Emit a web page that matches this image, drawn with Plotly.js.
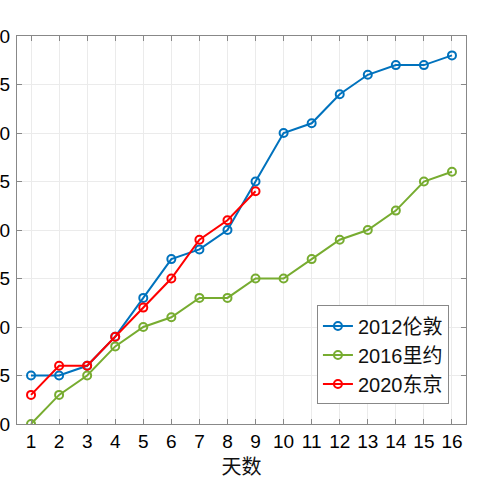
<!DOCTYPE html>
<html>
<head>
<meta charset="utf-8">
<script src="https://cdn.plot.ly/plotly-3.0.1.min.js"></script>
<style>html,body{margin:0;padding:0;background:#fff;}#chart{width:480px;height:480px;}</style>
</head>
<body>
<div id="chart"></div>
<script>
const days = [1,2,3,4,5,6,7,8,9,10,11,12,13,14,15,16];
const london2012 = [5,5,6,9,13,17,18,20,25,30,31,34,36,37,37,38];
const rio2016 = [0,3,5,8,10,11,13,13,15,15,17,19,20,22,25,26];
const tokyo2020 = [3,6,6,9,12,15,19,21,24];
const seriesNames = ['2012伦敦','2016里约','2020东京'];
const yTicks = [0,5,10,15,20,25,30,35,40];
// the reference is cropped at its left edge: only the last digit of each y label is visible
const yTickLabels = ['0','5','0','5','0','5','0','5','0'];

const colors = ['#0072BD','#77AC30','#FF0000'];
const mk = (x, y, name, c) => ({
  x: x, y: y, name: name, type: 'scatter', mode: 'lines+markers',
  line: {color: c, width: 2},
  marker: {symbol: 'circle-open', size: 8, color: c, line: {width: 2, color: c}}
});
const data = [
  mk(days, london2012, seriesNames[0], colors[0]),
  mk(days, rio2016, seriesNames[1], colors[1]),
  mk(days.slice(0, tokyo2020.length), tokyo2020, seriesNames[2], colors[2])
];
const tf = {family: 'Liberation Sans, Arial, sans-serif', size: 19, color: '#000'};
const axisCommon = {
  showline: true, mirror: 'ticks', linecolor: '#888', linewidth: 1,
  ticks: 'inside', ticklen: 5, tickcolor: '#888',
  showgrid: true, gridcolor: '#ebebeb', gridwidth: 1, zeroline: false,
  tickfont: tf
};
const layout = {
  width: 480, height: 480,
  margin: {l: 17, r: 14, t: 36, b: 56},
  paper_bgcolor: '#fff', plot_bgcolor: '#fff',
  showlegend: true,
  xaxis: Object.assign({}, axisCommon, {
    range: [0.5, 16.5], tickmode: 'array', tickvals: days,
    title: {text: '天数', font: {family: 'Noto Sans CJK SC, sans-serif', size: 20, color: '#111'}, standoff: 2},
    automargin: false
  }),
  yaxis: Object.assign({}, axisCommon, {
    range: [0, 40], tickmode: 'array', tickvals: yTicks, ticktext: yTickLabels,
    ticklabelstandoff: 2,
    automargin: false
  }),
  legend: {
    x: 0.815, xanchor: 'center', y: 0.178, yanchor: 'middle',
    bgcolor: '#fff', bordercolor: '#888', borderwidth: 1,
    itemwidth: 30, tracegroupgap: 0,
    font: {family: 'Liberation Sans, Noto Sans CJK SC, sans-serif', size: 20, color: '#111'}
  }
};
Plotly.newPlot('chart', data, layout, {displayModeBar: false, staticPlot: true});
</script>
</body>
</html>
